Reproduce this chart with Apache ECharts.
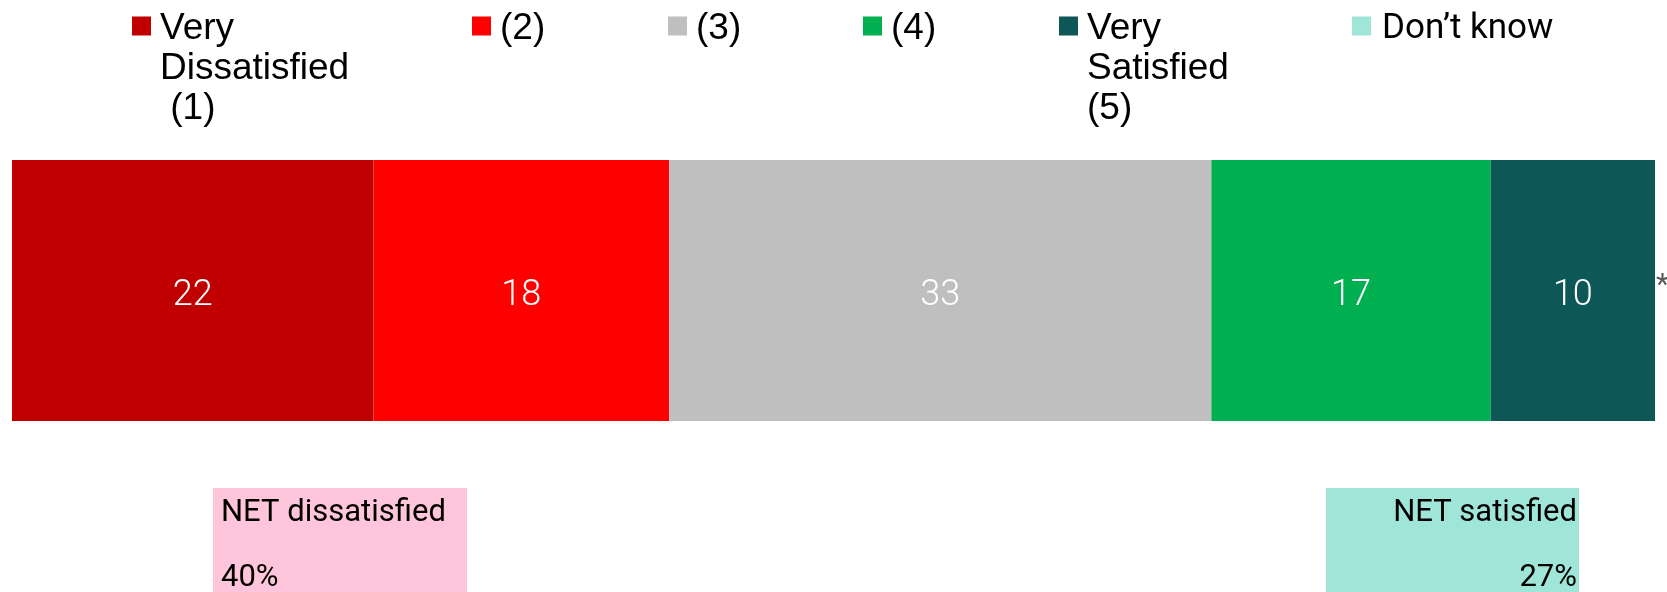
<!DOCTYPE html>
<html>
<head>
<meta charset="utf-8">
<script src="https://cdn.jsdelivr.net/npm/echarts@6/dist/echarts.min.js"></script>
<style>
  html, body { margin: 0; padding: 0; background: #fff; }
  #chart { width: 1667px; height: 592px; }
</style>
</head>
<body>
<div id="chart"></div>
<script>
// data
const categories = ['Satisfaction'];
const seriesNames = ['Very Dissatisfied (1)', '(2)', '(3)', '(4)', 'Very Satisfied (5)', 'Don’t know'];
const legendTexts = ['Very\nDissatisfied\n (1)', '(2)', '(3)', '(4)', 'Very\nSatisfied\n(5)', 'Don’t know'];
const values = [22, 18, 33, 17, 10, 0];
const valueLabels = ['22', '18', '33', '17', '10', '*'];
const netLabels = ['NET dissatisfied', 'NET satisfied'];

const colors = ['#C00000', '#FF0000', '#BFBFBF', '#00B050', '#0E5757', '#A0E6D8'];
const legendLeft = [132, 472, 668, 863, 1059, 1352];

// NET = bottom two / top two boxes
const netDis = values[0] + values[1];
const netSat = values[3] + values[4];

let myChart = echarts.init(document.getElementById('chart'));

const LINE_H = 40;

// square icon at the top of a taller item box, so the first text line sits beside it
function legendIcon(h) {
    return 'path://M0,0H19V19H0Z M0,' + (h - 0.1) + 'H0.01V' + h + 'H0Z';
}

myChart.setOption({
    animation: false,
    legend: seriesNames.map((name, i) => {
        const lines = legendTexts[i].split('\n').length;
        const h = (lines - 1) * LINE_H + 25;
        const last = i === seriesNames.length - 1;
        return {
            data: [name],
            left: legendLeft[i],
            top: 9,
            padding: 0,
            icon: legendIcon(h),
            itemWidth: 19,
            itemHeight: h,
            selectedMode: false,
            formatter: () => legendTexts[i],
            textStyle: {
                fontFamily: last ? 'Roboto' : 'Liberation Sans, Arial, sans-serif',
                fontSize: last ? 35 : 37,
                color: '#000',
                lineHeight: LINE_H,
                padding: [0, 0, 0, last ? 6 : 4]
            }
        };
    }),
    grid: { left: 12, right: 12, top: 160, height: 261 },
    xAxis: { type: 'value', min: 0, max: 100, show: false },
    yAxis: { type: 'category', data: categories, show: false },
    series: seriesNames.map((name, i) => ({
        name: name,
        type: 'bar',
        stack: 'total',
        barCategoryGap: '0%',
        data: [values[i]],
        itemStyle: { color: colors[i] },
        label: {
            show: true,
            position: i === 5 ? 'right' : 'inside',
            distance: 1,
            offset: i === 5 ? [0, -4] : [0, 5],
            formatter: () => valueLabels[i],
            color: i === 5 ? '#595959' : '#fff',
            fontFamily: 'Roboto',
            fontWeight: i === 5 ? 400 : 300,
            fontSize: i === 5 ? 30 : 36
        }
    })),
    graphic: [
        { type: 'rect', shape: { x: 213, y: 488, width: 254, height: 110 }, style: { fill: '#FFC5DA' } },
        { type: 'text', style: { x: 221, y: 513, text: netLabels[0], font: '400 31px Roboto', fill: '#000', verticalAlign: 'middle' } },
        { type: 'text', style: { x: 221, y: 578, text: netDis + '%', font: '400 31px Roboto', fill: '#000', verticalAlign: 'middle' } },
        { type: 'rect', shape: { x: 1326, y: 488, width: 253, height: 110 }, style: { fill: '#A0E6D8' } },
        { type: 'text', style: { x: 1577, y: 513, text: netLabels[1], font: '400 31px Roboto', fill: '#000', align: 'right', verticalAlign: 'middle' } },
        { type: 'text', style: { x: 1577, y: 578, text: netSat + '%', font: '400 31px Roboto', fill: '#000', align: 'right', verticalAlign: 'middle' } }
    ]
});
</script>
</body>
</html>
